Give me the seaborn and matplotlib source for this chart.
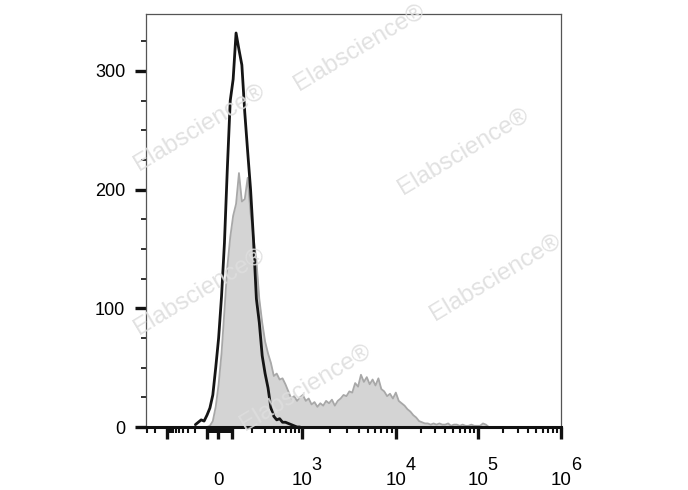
import numpy as np
import seaborn as sns
import matplotlib
matplotlib.use('Agg')
from matplotlib import pyplot as plt
from matplotlib.ticker import FixedLocator, MultipleLocator

# histogram bins on the display channel axis (biexponential, 0-1000)
channel = np.arange(119, 834, 7)

# stained sample (grey filled)
stained = [0, 0, 0, 0, 0, 1, 5, 17, 36, 62,
           98, 135, 160, 178, 188, 214, 190, 192, 210, 180,
           160, 140, 108, 88, 72, 62, 54, 43, 45, 40,
           41, 36, 30, 24, 26, 22, 25, 27, 22, 24,
           19, 21, 17, 20, 18, 22, 20, 23, 18, 22,
           24, 27, 26, 30, 29, 37, 34, 44, 38, 42,
           36, 40, 35, 41, 32, 30, 26, 28, 24, 29,
           22, 20, 18, 15, 13, 10, 8, 5, 4, 3,
           3, 2, 3, 2, 3, 2, 2, 3, 1, 2,
           2, 1, 2, 1, 1, 2, 1, 1, 1, 3,
           2, 0, 0]

# isotype control (black line)
control = [2, 4, 6, 5, 10, 16, 27, 50, 75, 110,
           155, 218, 275, 293, 332, 318, 305, 265, 232, 200,
           158, 108, 88, 60, 45, 33, 16, 9, 6, 7,
           4, 4, 3, 2, 1, 0, 0]

# biex anchors: intensity value -> display channel
anchor_vals = [-1000, -100, 0, 100, 1e3, 1e4, 1e5, 1e6]
anchor_chan = [50.6, 147, 173.5, 207.2, 375.9, 602.4, 800, 1000]

x_labels = ['', '', '0', '', '10', '10', '10', '10']
decades = [3, 4, 5, 6]
minor_vals = ([-3000, -2000] + list(range(-900, -100, 100)) + list(range(-90, 0, 10))
              + list(range(10, 100, 10)) + list(range(200, 1000, 100))
              + [k * 10 ** d for d in (3, 4, 5) for k in range(2, 10)])

s_anch = np.arcsinh(np.array(anchor_vals) / 50.0)
c_anch = np.array(anchor_chan, float)
lo_slope = (c_anch[1] - c_anch[0]) / (s_anch[1] - s_anch[0])
hi_slope = (c_anch[-1] - c_anch[-2]) / (s_anch[-1] - s_anch[-2])
s_anch = np.concatenate([[s_anch[0] - 6], s_anch, [s_anch[-1] + 6]])
c_anch = np.concatenate([[c_anch[0] - 6 * lo_slope], c_anch, [c_anch[-1] + 6 * hi_slope]])


def biex(x):
    return np.interp(np.arcsinh(np.asarray(x, float) / 50.0), s_anch, c_anch)


def biex_inv(c):
    return 50.0 * np.sinh(np.interp(np.asarray(c, float), c_anch, s_anch))


sns.set_style('ticks')
plt.rcParams['font.family'] = ['Liberation Sans', 'DejaVu Sans']

fig = plt.figure(figsize=(6.88, 4.9), dpi=100)
ax = fig.add_axes([146 / 688, 1 - 427 / 490, 415 / 688, 413 / 490])
ax.set_xscale('function', functions=(biex, biex_inv))

x_st = biex_inv(channel)
x_ct = biex_inv(channel[:len(control)])

ax.fill_between(x_st, stained, color='#d4d4d4', lw=0, zorder=1)
sns.lineplot(x=x_st, y=stained, ax=ax, color='#a8a8a8', lw=1.3, errorbar=None, zorder=2)
sns.lineplot(x=x_ct, y=control, ax=ax, color='#151515', lw=2.0, errorbar=None, zorder=4)

ax.set_xlim(biex_inv(0), biex_inv(1000))
ax.set_ylim(0, 348)

ax.xaxis.set_major_locator(FixedLocator(anchor_vals))
ax.xaxis.set_minor_locator(FixedLocator(minor_vals))
ax.set_xticklabels(x_labels)
ax.set_yticks([0, 100, 200, 300])
ax.yaxis.set_minor_locator(MultipleLocator(25))

ax.tick_params(axis='x', which='major', length=8.6, width=2.4, pad=33, labelsize=13.5,
               color='#111111', labelcolor='black')
ax.tick_params(axis='x', which='minor', length=4, width=1.5, color='#111111')
ax.tick_params(axis='y', which='major', length=8, width=2.4, pad=7, labelsize=13,
               color='#111111', labelcolor='black')
ax.tick_params(axis='y', which='minor', length=3.6, width=1.3, color='#222222')
for lbl in ax.get_xticklabels():
    lbl.set_verticalalignment('baseline')

# decade exponents, drawn next to the "10" labels
for d in decades:
    ax.annotate(str(d), xy=(10.0 ** d, 0), xycoords=('data', 'axes fraction'),
                xytext=(7.0, -31), textcoords='offset points', ha='left', va='baseline',
                fontsize=13, color='black', annotation_clip=False)

for side in ['top', 'right', 'left']:
    ax.spines[side].set_linewidth(0.9)
    ax.spines[side].set_color('#555555')
ax.spines['bottom'].set_linewidth(2.2)
ax.spines['bottom'].set_color('#111111')
ax.set_xlabel('')
ax.set_ylabel('')

# watermark
marks = [(360, 48), (200, 128), (464, 152), (200, 292), (496, 278), (306, 388)]
for px, py in marks:
    fig.text(px / 688, 1 - py / 490, 'Elabscience®', fontsize=17.5, color='#dedede',
             rotation=31, ha='center', va='center', zorder=3, alpha=0.9)

fig.savefig('out.png', dpi=100)
